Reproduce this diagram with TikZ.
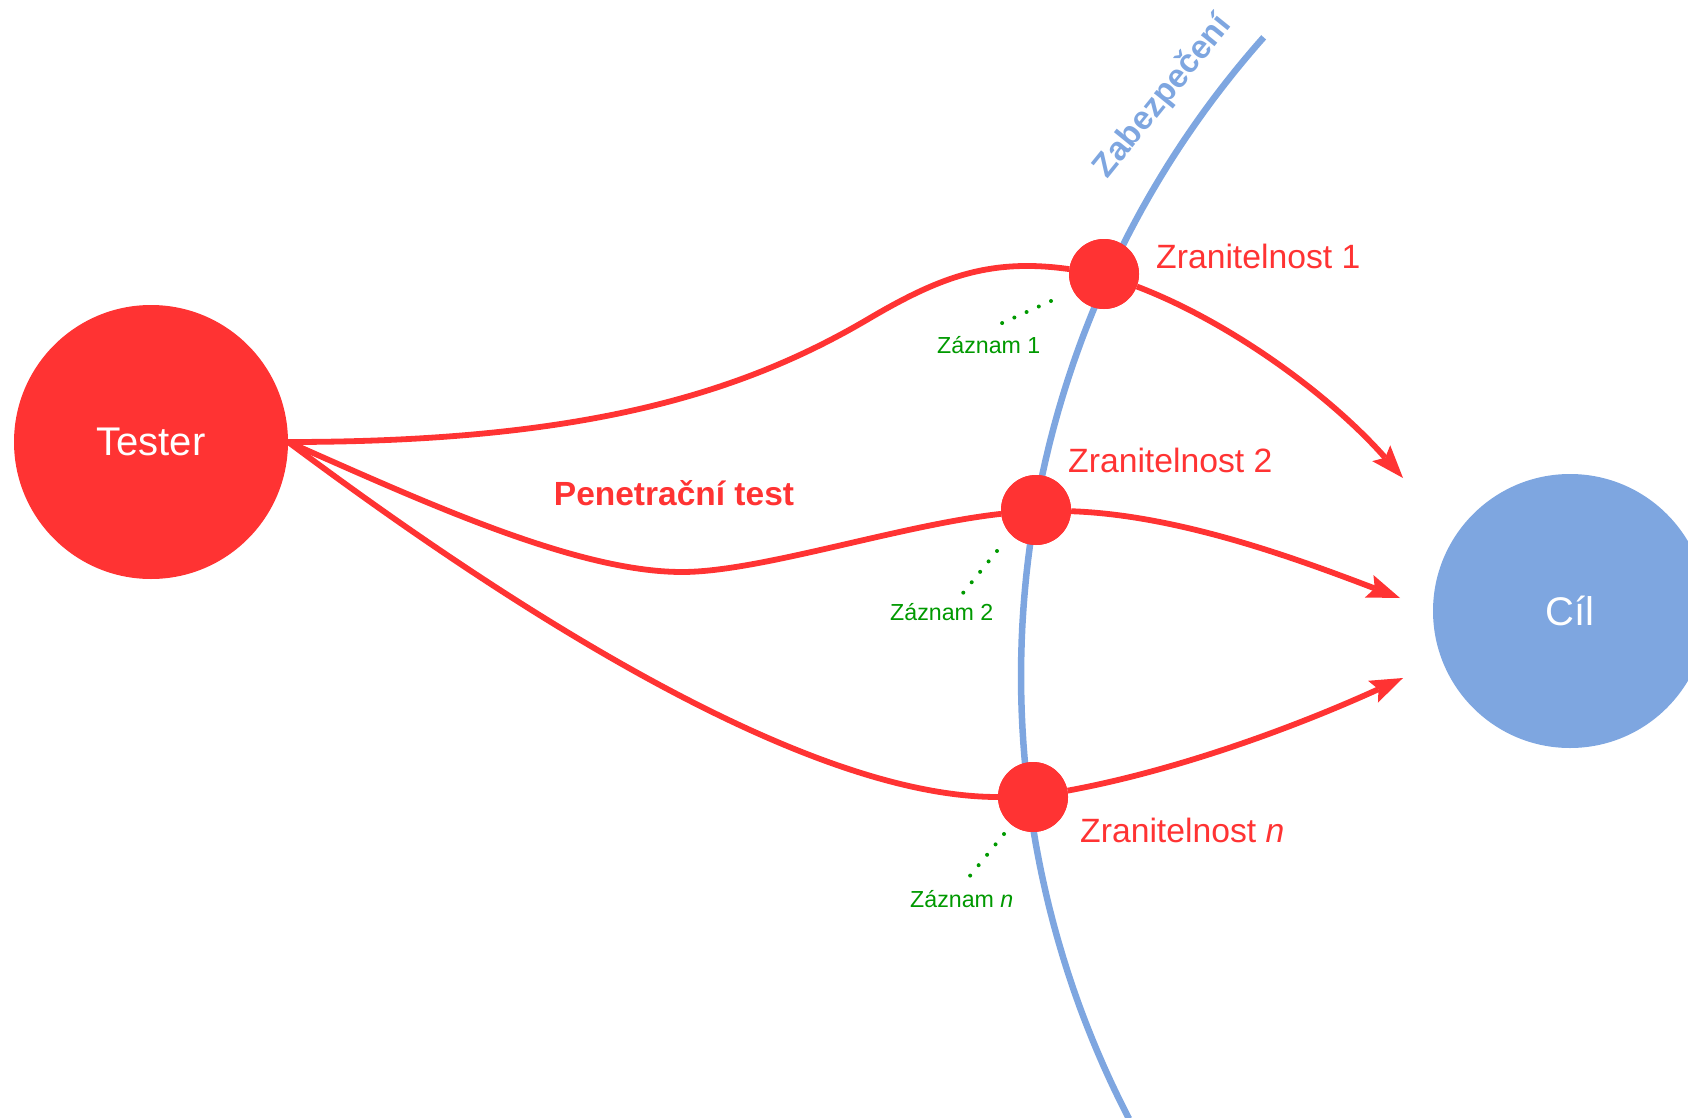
\documentclass[tikz,border=0pt]{standalone}
\usepackage{fontspec}
\setmainfont{Liberation Sans}
\usetikzlibrary{arrows.meta}
\definecolor{vulnred}{HTML}{FF3333}
\definecolor{secblue}{HTML}{7EA6E0}
\definecolor{loggreen}{HTML}{009900}
\tikzset{
  attack/.style={draw=vulnred, line width=5.8pt},
  hit/.style={attack, -{Stealth[length=33pt,width=24pt,inset=6pt,line width=0pt]}},
  vuln/.style={circle, fill=vulnred, minimum size=70pt, inner sep=0pt},
  party/.style={circle, minimum size=274pt, inner sep=0pt, text=white,
    font=\fontsize{40}{46}\selectfont},
  vlabel/.style={text=vulnred, anchor=base west, inner sep=0pt,
    font=\fontsize{33.7}{40}\selectfont},
  loglabel/.style={text=loggreen, anchor=base west, inner sep=0pt,
    font=\fontsize{23.2}{28}\selectfont},
  logline/.style={draw=loggreen, line width=4pt, line cap=round,
    dash pattern=on 0pt off 13.4pt},
  barrier/.style={draw=secblue, line width=6.5pt},
}
\begin{document}
\begin{tikzpicture}[x=1pt,y=-1pt]
\clip (0,0) rectangle (1688,1118);

% security perimeter
\draw[barrier] plot[domain=152.6:221.6, samples=160]
  ({1983+962*cos(\x)}, {676+962*sin(\x)});
\node[text=secblue, font=\bfseries\fontsize{33}{40}\selectfont, rotate=51]
  (sec) at (1163,97) {Zabezpečení};

% main actors
\node[party, fill=vulnred] (tester) at (151,442) {Tester};
\node[party, fill=secblue] (target) at (1570,611) {Cíl};

% vulnerabilities (positions only, drawn again on top of the lines)
\coordinate (z1c) at (1104,274);
\coordinate (z2c) at (1036,510);
\coordinate (znc) at (1033,797);
\node[vuln] (z1) at (z1c) {};
\node[vuln] (z2) at (z2c) {};
\node[vuln] (zn) at (znc) {};

% attack paths
\coordinate (w1) at (870,318);
\coordinate (w2) at (682,572);
\draw[attack] (tester.east) .. controls (580,442) and (740,395) .. (w1)
  .. controls (940,277) and (990,258) .. (z1);
\draw[attack] (tester.east) .. controls (420,500) and (575,572) .. (w2)
  .. controls (760,572) and (900,525) .. (z2);
\draw[attack] (tester.east) .. controls (500,600) and (800,797) .. (zn);

% exploitation towards the target
\coordinate (tip1) at (1403,478);
\coordinate (tip2) at (1400,598);
\coordinate (tip3) at (1403,678);
\draw[hit] (z1) .. controls (1230,322) and (1330,395) .. (tip1);
\draw[hit] (z2) .. controls (1180,515) and (1300,560) .. (tip2);
\draw[hit] (zn) .. controls (1180,770) and (1300,725) .. (tip3);

% vulnerability dots on top of the lines
\node[vuln] at (z1c) {};
\node[vuln] at (z2c) {};
\node[vuln] at (znc) {};

% log records
\coordinate (d1a) at (1051,301);
\coordinate (d1b) at (1000,324);
\coordinate (d2a) at (997,551);
\coordinate (d2b) at (963,593);
\coordinate (dna) at (1004,834);
\coordinate (dnb) at (969,877);
\draw[logline] (d1a) -- (d1b);
\draw[logline] (d2a) -- (d2b);
\draw[logline] (dna) -- (dnb);
\node[loglabel] (log1) at (937,353) {Záznam 1};
\node[loglabel] (log2) at (890,620) {Záznam 2};
\node[loglabel] (logn) at (910,907) {Záznam \textit{n}};

% labels
\node[vlabel] (lz1) at (1156,268) {Zranitelnost 1};
\node[vlabel] (lz2) at (1068,472) {Zranitelnost 2};
\node[vlabel] (lzn) at (1080,842) {Zranitelnost \textit{n}};
\node[text=vulnred, font=\bfseries\fontsize{33.5}{40}\selectfont, anchor=base]
  (pentest) at (674,505) {Penetrační test};
\end{tikzpicture}
\end{document}
